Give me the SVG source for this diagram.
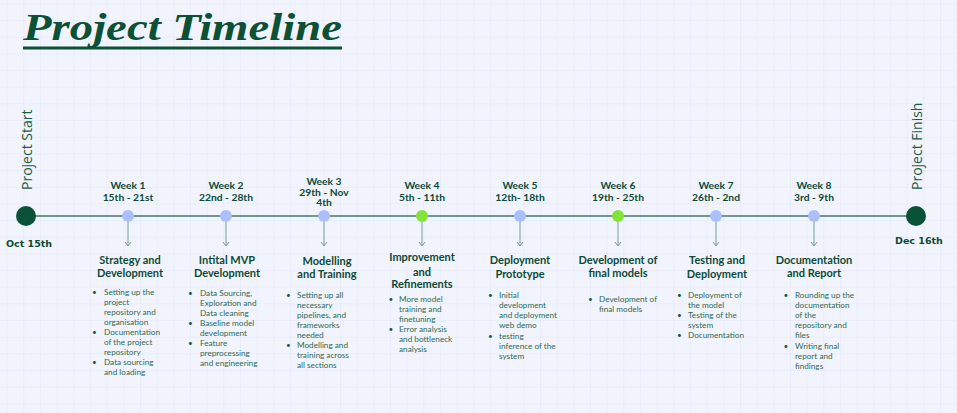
<svg xmlns="http://www.w3.org/2000/svg" width="957" height="413" viewBox="0 0 957 413">
  <defs>
    <pattern id="grid" x="6.67" y="3.33" width="16.667" height="16.667" patternUnits="userSpaceOnUse">
      <path d="M0 0 H16.667 M0 0 V16.667" fill="none" stroke="#dde4fa" stroke-width="1"/>
    </pattern>
    <marker id="arr" viewBox="0 0 6 8" refX="5" refY="4" markerWidth="6" markerHeight="8" markerUnits="userSpaceOnUse" orient="auto">
      <path d="M1 1 L5 4 L1 7" fill="none" stroke="#76a093" stroke-width="1"/>
    </marker>
    <style>
      .title { font-family: "Liberation Serif", "DejaVu Serif", serif; font-weight: bold; font-style: italic; font-size: 37px; fill: #0c5036; }
      .side { font-family: "Open Sans", "Liberation Sans", sans-serif; font-size: 14px; fill: #1d5c45; }
      .date { font-family: "DejaVu Sans", "Liberation Sans", sans-serif; font-weight: bold; font-size: 9.5px; fill: #0c4a34; }
      .wk { font-family: Lato, "Liberation Sans", sans-serif; font-weight: bold; font-size: 10.3px; fill: #0d4a36; text-anchor: middle; }
      .hd { font-family: Lato, "Liberation Sans", sans-serif; font-weight: bold; font-size: 11px; fill: #0d4a36; text-anchor: middle; }
      .bd { font-family: Lato, "Liberation Sans", sans-serif; font-size: 8.2px; fill: #2d6a54; }
      .bl { font-family: Lato, "Liberation Sans", sans-serif; font-size: 8.2px; fill: #1b5a43; }
      .blue { fill: #aabffb; }
      .green { fill: #84e33a; }
      .end { fill: #0a5237; }
      .conn { stroke: #76a093; stroke-width: 1; fill: none; }
    </style>
  </defs>

  <rect width="957" height="413" fill="#f2f4fd"/>
  <rect width="957" height="413" fill="url(#grid)"/>

  <g id="title">
    <text class="title" x="23" y="39.5" textLength="319" lengthAdjust="spacingAndGlyphs">Project Timeline</text>
    <rect x="23" y="46.5" width="319" height="3" fill="#0c5036"/>
  </g>

  <g id="connectors">
    <line x1="26" y1="216" x2="916" y2="216" stroke="#6f978c" stroke-width="2"/>
    <line class="conn" x1="128" y1="222" x2="128" y2="246" marker-end="url(#arr)"/>
    <line class="conn" x1="226" y1="222" x2="226" y2="246" marker-end="url(#arr)"/>
    <line class="conn" x1="324" y1="222" x2="324" y2="246" marker-end="url(#arr)"/>
    <line class="conn" x1="422" y1="222" x2="422" y2="246" marker-end="url(#arr)"/>
    <line class="conn" x1="520" y1="222" x2="520" y2="246" marker-end="url(#arr)"/>
    <line class="conn" x1="618" y1="222" x2="618" y2="246" marker-end="url(#arr)"/>
    <line class="conn" x1="716" y1="222" x2="716" y2="246" marker-end="url(#arr)"/>
    <line class="conn" x1="814" y1="222" x2="814" y2="246" marker-end="url(#arr)"/>
  </g>

  <g id="start">
    <circle class="end" cx="26" cy="216" r="10"/>
    <text class="side" transform="translate(31.5,190) rotate(-90)">Project Start</text>
    <text class="date" x="6" y="247">Oct 15th</text>
  </g>

  <g id="finish">
    <circle class="end" cx="916" cy="216" r="10"/>
    <text class="side" transform="translate(921.5,190) rotate(-90)">Project Finish</text>
    <text class="date" x="895" y="243.5">Dec 16th</text>
  </g>

  <g id="week1">
    <circle class="blue" cx="128" cy="216" r="6"/>
    <text class="wk" x="128" y="189">Week 1</text>
    <text class="wk" x="128" y="200.5">15th - 21st</text>
    <text class="hd" x="130" y="264">Strategy and</text>
    <text class="hd" x="130" y="277">Development</text>
    <text class="bl" x="92" y="294.5">•</text>
    <text class="bd" x="104" y="294.5">Setting up the</text>
    <text class="bd" x="104" y="304.5">project</text>
    <text class="bd" x="104" y="314.5">repository and</text>
    <text class="bd" x="104" y="324.5">organisation</text>
    <text class="bl" x="92" y="334.5">•</text>
    <text class="bd" x="104" y="334.5">Documentation</text>
    <text class="bd" x="104" y="344.5">of the project</text>
    <text class="bd" x="104" y="354.5">repository</text>
    <text class="bl" x="92" y="364.5">•</text>
    <text class="bd" x="104" y="364.5">Data sourcing</text>
    <text class="bd" x="104" y="374.5">and loading</text>
  </g>

  <g id="week2">
    <circle class="blue" cx="226" cy="216" r="6"/>
    <text class="wk" x="226" y="189">Week 2</text>
    <text class="wk" x="226" y="200.5">22nd - 28th</text>
    <text class="hd" x="227" y="264">Intital MVP</text>
    <text class="hd" x="227" y="277">Development</text>
    <text class="bl" x="188" y="295.5">•</text>
    <text class="bd" x="200" y="295.5">Data Sourcing,</text>
    <text class="bd" x="200" y="305.5">Exploration and</text>
    <text class="bd" x="200" y="315.5">Data cleaning</text>
    <text class="bl" x="188" y="325.5">•</text>
    <text class="bd" x="200" y="325.5">Baseline model</text>
    <text class="bd" x="200" y="335.5">development</text>
    <text class="bl" x="188" y="345.5">•</text>
    <text class="bd" x="200" y="345.5">Feature</text>
    <text class="bd" x="200" y="355.5">preprocessing</text>
    <text class="bd" x="200" y="365.5">and engineering</text>
  </g>

  <g id="week3">
    <circle class="blue" cx="324" cy="216" r="6"/>
    <text class="wk" x="324" y="184.5">Week 3</text>
    <text class="wk" x="324" y="195.5">29th - Nov</text>
    <text class="wk" x="324" y="206">4th</text>
    <text class="hd" x="327" y="264.5">Modelling</text>
    <text class="hd" x="327" y="278">and Training</text>
    <text class="bl" x="286" y="298">•</text>
    <text class="bd" x="297" y="298">Setting up all</text>
    <text class="bd" x="297" y="308">necessary</text>
    <text class="bd" x="297" y="318">pipelines, and</text>
    <text class="bd" x="297" y="328">frameworks</text>
    <text class="bd" x="297" y="338">needed</text>
    <text class="bl" x="286" y="348">•</text>
    <text class="bd" x="297" y="348">Modelling and</text>
    <text class="bd" x="297" y="358">training across</text>
    <text class="bd" x="297" y="368">all sections</text>
  </g>

  <g id="week4">
    <circle class="green" cx="422" cy="216" r="6"/>
    <text class="wk" x="422" y="189">Week 4</text>
    <text class="wk" x="422" y="200.5">5th - 11th</text>
    <text class="hd" x="422" y="261">Improvement</text>
    <text class="hd" x="422" y="275.5">and</text>
    <text class="hd" x="422" y="288">Refinements</text>
    <text class="bl" x="388.5" y="302.3">•</text>
    <text class="bd" x="399" y="302.3">More model</text>
    <text class="bd" x="399" y="312.3">training and</text>
    <text class="bd" x="399" y="322.3">finetuning</text>
    <text class="bl" x="388.5" y="332.3">•</text>
    <text class="bd" x="399" y="332.3">Error analysis</text>
    <text class="bd" x="399" y="342.3">and bottleneck</text>
    <text class="bd" x="399" y="352.3">analysis</text>
  </g>

  <g id="week5">
    <circle class="blue" cx="520" cy="216" r="6"/>
    <text class="wk" x="520" y="189">Week 5</text>
    <text class="wk" x="520" y="200.5">12th- 18th</text>
    <text class="hd" x="520" y="264">Deployment</text>
    <text class="hd" x="520" y="278">Prototype</text>
    <text class="bl" x="488" y="298">•</text>
    <text class="bd" x="499" y="298">Initial</text>
    <text class="bd" x="499" y="308">development</text>
    <text class="bd" x="499" y="318">and deployment</text>
    <text class="bd" x="499" y="328">web demo</text>
    <text class="bl" x="488" y="338.7">•</text>
    <text class="bd" x="499" y="338.7">testing</text>
    <text class="bd" x="499" y="348.7">inference of the</text>
    <text class="bd" x="499" y="358.7">system</text>
  </g>

  <g id="week6">
    <circle class="green" cx="618" cy="216" r="6"/>
    <text class="wk" x="618" y="189">Week 6</text>
    <text class="wk" x="618" y="200.5">19th - 25th</text>
    <text class="hd" x="618" y="264">Development of</text>
    <text class="hd" x="618" y="277">final models</text>
    <text class="bl" x="588" y="302.3">•</text>
    <text class="bd" x="599" y="302.3">Development of</text>
    <text class="bd" x="599" y="312.3">final models</text>
  </g>

  <g id="week7">
    <circle class="blue" cx="716" cy="216" r="6"/>
    <text class="wk" x="716" y="189">Week 7</text>
    <text class="wk" x="716" y="200.5">26th - 2nd</text>
    <text class="hd" x="717" y="264">Testing and</text>
    <text class="hd" x="717" y="278">Deployment</text>
    <text class="bl" x="677" y="298">•</text>
    <text class="bd" x="688" y="298">Deployment of</text>
    <text class="bd" x="688" y="308">the model</text>
    <text class="bl" x="677" y="318">•</text>
    <text class="bd" x="688" y="318">Testing of the</text>
    <text class="bd" x="688" y="328">system</text>
    <text class="bl" x="677" y="338">•</text>
    <text class="bd" x="688" y="338">Documentation</text>
  </g>

  <g id="week8">
    <circle class="blue" cx="814" cy="216" r="6"/>
    <text class="wk" x="814" y="189">Week 8</text>
    <text class="wk" x="814" y="200.5">3rd - 9th</text>
    <text class="hd" x="814" y="264">Documentation</text>
    <text class="hd" x="814" y="277">and Report</text>
    <text class="bl" x="783.5" y="298">•</text>
    <text class="bd" x="795" y="298">Rounding up the</text>
    <text class="bd" x="795" y="308">documentation</text>
    <text class="bd" x="795" y="318">of the</text>
    <text class="bd" x="795" y="328">repository and</text>
    <text class="bd" x="795" y="338">files</text>
    <text class="bl" x="783.5" y="348.7">•</text>
    <text class="bd" x="795" y="348.7">Writing final</text>
    <text class="bd" x="795" y="358.7">report and</text>
    <text class="bd" x="795" y="368.7">findings</text>
  </g>
</svg>
